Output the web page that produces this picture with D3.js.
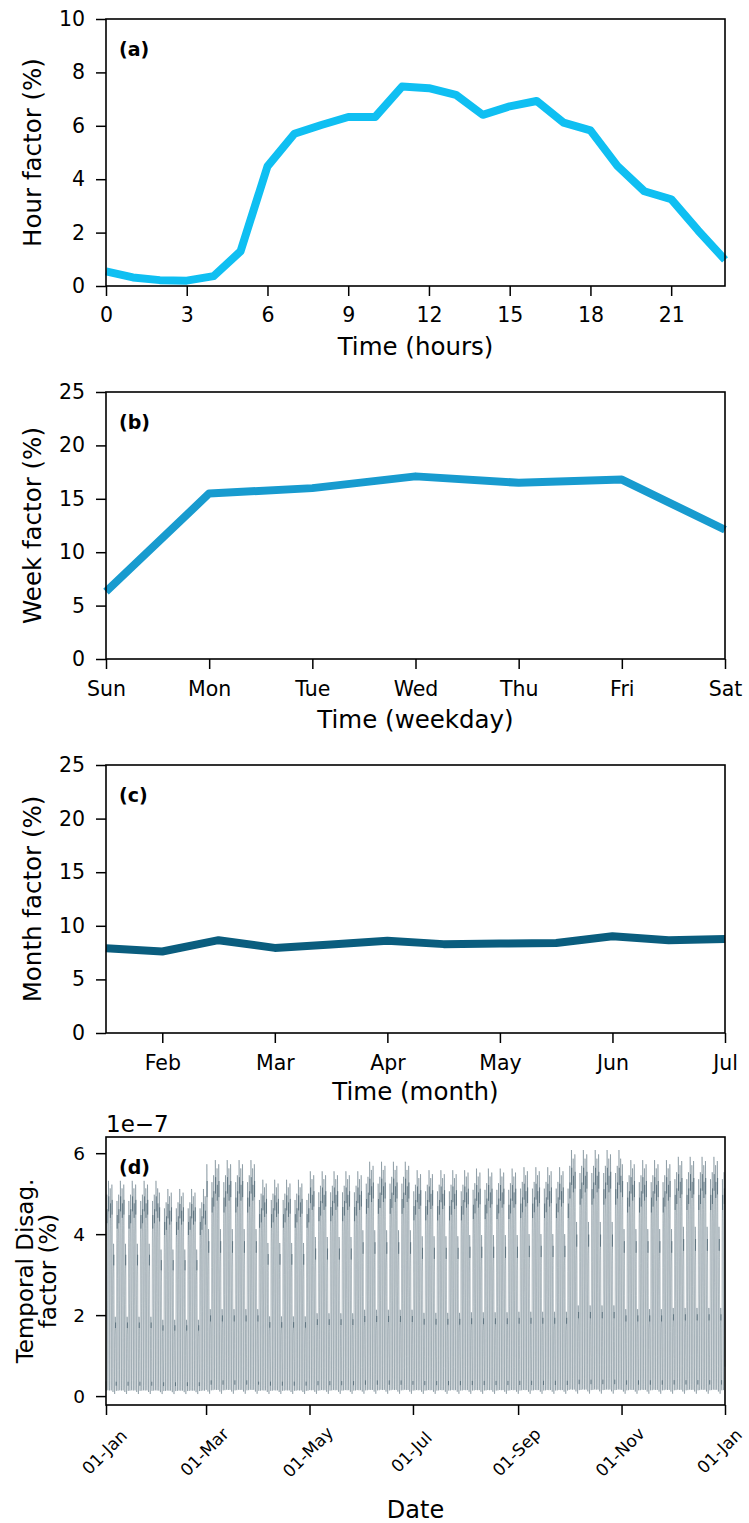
<!DOCTYPE html>
<html><head><meta charset="utf-8">
<script src="https://cdn.jsdelivr.net/npm/d3@7/dist/d3.min.js"></script>
<style>
body{margin:0;background:#fff}
text{font-family:"DejaVu Sans",sans-serif;fill:#000}
</style>
</head><body>
<svg id="chart" width="749" height="1523"></svg>
<script>
// ---------- data ----------
const hourIndex = [0,1,2,3,4,5,6,7,8,9,10,11,12,13,14,15,16,17,18,19,20,21,22,23];
const hourFactor = [0.55,0.32,0.22,0.20,0.37,1.30,4.48,5.70,6.03,6.33,6.33,7.47,7.41,7.16,6.41,6.73,6.93,6.12,5.83,4.50,3.55,3.25,2.08,0.98];
const hourTicks = [0,3,6,9,12,15,18,21];

const weekdays = ["Sun","Mon","Tue","Wed","Thu","Fri","Sat"];
const weekFactor = [6.3,15.5,16.0,17.1,16.5,16.8,12.1];

const monthIndex = [0,1,2,3,4,5,6,7,8,9,10,11];
const monthFactor = [7.9,7.6,8.66,7.94,8.25,8.6,8.29,8.35,8.4,9.03,8.66,8.78];
const monthTickPos = [1,3,5,7,9,11];
const monthTickLabels = ["Feb","Mar","Apr","May","Jun","Jul"];

const weekTicksY = [0,5,10,15,20,25];
const hourTicksY = [0,2,4,6,8,10];
const disagTicksY = [0,2,4,6];
const disagYear = 2019;
const disagScale = 0.00527;
const dateTicks = ["2019-01-01","2019-03-01","2019-05-01","2019-07-01","2019-09-01","2019-11-01","2020-01-01"];

// ---------- layout ----------
const svg = d3.select("#chart");
const L = 106, R = 725;
const tickFont = 20.5, labelFont = 24.5;

function frame(top, bottom){
  svg.append("rect").attr("x",L).attr("y",top).attr("width",R-L).attr("height",bottom-top)
    .attr("fill","none").attr("stroke","#000").attr("stroke-width",1.6);
}
function styleAxis(size){
  return g=>{
    g.select(".domain").remove();
    g.selectAll(".tick line").attr("stroke","#000").attr("stroke-width",1.5);
    g.selectAll(".tick text").attr("font-size",size).attr("font-family","DejaVu Sans");
  };
}
function yLabel(top,bottom,lines,x,size,dy0){
  const t = svg.append("text").attr("transform",`translate(${x},${(top+bottom)/2}) rotate(-90)`)
    .attr("text-anchor","middle").attr("font-size",size);
  lines.forEach((s,i)=>t.append("tspan").attr("x",0).attr("dy", i===0 ? dy0 : "1.0em").text(s));
}
function panelLabel(top,s){
  svg.append("text").attr("x",119).attr("y",top+37).attr("font-size",19).attr("font-weight","bold").text(s);
}
function xLabel(s,yy,size){
  svg.append("text").attr("x",(L+R)/2).attr("y",yy).attr("text-anchor","middle").attr("font-size",size).text(s);
}

// ---------- panel a ----------
{
  const top=19,bottom=286;
  const x=d3.scaleLinear().domain([0,23]).range([L,R]);
  const y=d3.scaleLinear().domain([0,10]).range([bottom,top]);
  const line=d3.line().x((d,i)=>x(hourIndex[i])).y(d=>y(d));
  svg.append("path").datum(hourFactor).attr("d",line).attr("fill","none")
    .attr("stroke","#0fbff2").attr("stroke-width",8).attr("stroke-linejoin","round");
  frame(top,bottom);
  svg.append("g").attr("transform",`translate(0,${bottom})`)
    .call(d3.axisBottom(x).tickValues(hourTicks).tickSize(10).tickPadding(11).tickSizeOuter(0)).call(styleAxis(tickFont));
  svg.append("g").attr("transform",`translate(${L},0)`)
    .call(d3.axisLeft(y).tickValues(hourTicksY).tickSize(10).tickPadding(11).tickSizeOuter(0)).call(styleAxis(tickFont));
  xLabel("Time (hours)",355,labelFont);
  yLabel(top,bottom,["Hour factor (%)"],32,labelFont,"0.35em");
  panelLabel(top,"(a)");
}
// ---------- panel b ----------
{
  const top=392,bottom=659;
  const x=d3.scaleLinear().domain([0,6]).range([L,R]);
  const y=d3.scaleLinear().domain([0,25]).range([bottom,top]);
  const line=d3.line().x((d,i)=>x(i)).y(d=>y(d));
  svg.append("path").datum(weekFactor).attr("d",line).attr("fill","none")
    .attr("stroke","#189bcf").attr("stroke-width",8).attr("stroke-linejoin","round");
  frame(top,bottom);
  svg.append("g").attr("transform",`translate(0,${bottom})`)
    .call(d3.axisBottom(x).tickValues(d3.range(weekdays.length)).tickFormat(i=>weekdays[i]).tickSize(10).tickPadding(12).tickSizeOuter(0)).call(styleAxis(tickFont));
  svg.append("g").attr("transform",`translate(${L},0)`)
    .call(d3.axisLeft(y).tickValues(weekTicksY).tickSize(10).tickPadding(11).tickSizeOuter(0)).call(styleAxis(tickFont));
  xLabel("Time (weekday)",728,labelFont);
  yLabel(top,bottom,["Week factor (%)"],32,labelFont,"0.35em");
  panelLabel(top,"(b)");
}
// ---------- panel c ----------
{
  const top=765,bottom=1033;
  const x=d3.scaleLinear().domain([0,11]).range([L,R]);
  const y=d3.scaleLinear().domain([0,25]).range([bottom,top]);
  const line=d3.line().x((d,i)=>x(monthIndex[i])).y(d=>y(d));
  svg.append("path").datum(monthFactor).attr("d",line).attr("fill","none")
    .attr("stroke","#0a5d7e").attr("stroke-width",8).attr("stroke-linejoin","round");
  frame(top,bottom);
  svg.append("g").attr("transform",`translate(0,${bottom})`)
    .call(d3.axisBottom(x).tickValues(monthTickPos).tickFormat((d,i)=>monthTickLabels[i]).tickSize(10).tickPadding(12).tickSizeOuter(0)).call(styleAxis(tickFont));
  svg.append("g").attr("transform",`translate(${L},0)`)
    .call(d3.axisLeft(y).tickValues(weekTicksY).tickSize(10).tickPadding(11).tickSizeOuter(0)).call(styleAxis(tickFont));
  xLabel("Time (month)",1100,labelFont);
  yLabel(top,bottom,["Month factor (%)"],32,labelFont,"0.35em");
  panelLabel(top,"(c)");
}
// ---------- panel d ----------
{
  const top=1137,bottom=1405;
  const start=new Date(disagYear,0,1), end=new Date(disagYear+1,0,1);
  const x=d3.scaleTime().domain([start,end]).range([L,R]);
  const y=d3.scaleLinear().domain([-0.22,6.4]).range([bottom,top]);
  const series=[];
  for(const day of d3.timeDay.range(start,end)){
    const w=weekFactor[day.getDay()], m=monthFactor[day.getMonth()];
    hourIndex.forEach(h=>{
      series.push({t:d3.timeHour.offset(day,h), v:hourFactor[h]*w*m*disagScale});
    });
  }
  svg.append("path").datum(series).attr("d",d3.line().x(d=>x(d.t)).y(d=>y(d.v)))
    .attr("fill","none").attr("stroke","#1d3d4e").attr("stroke-opacity",0.5).attr("stroke-width",0.6);
  frame(top,bottom);
  const fmt=d3.timeFormat("%d-%b");
  const gx=svg.append("g").attr("transform",`translate(0,${bottom})`)
    .call(d3.axisBottom(x).tickValues(dateTicks.map(s=>d3.timeParse("%Y-%m-%d")(s))).tickFormat(fmt).tickSize(10).tickSizeOuter(0)).call(styleAxis(17));
  gx.selectAll(".tick text").attr("y",0).attr("dy","0.35em").attr("text-anchor","middle")
    .attr("transform",(d,i,n)=> i===n.length-1 ? "translate(-6,46) rotate(-45)" : "translate(-2,47) rotate(-45)");
  svg.append("g").attr("transform",`translate(${L},0)`)
    .call(d3.axisLeft(y).tickValues(disagTicksY).tickFormat(d3.format("d")).tickSize(10).tickPadding(11).tickSizeOuter(0)).call(styleAxis(18.5));
  svg.append("text").attr("x",L).attr("y",1132).attr("font-size",23).text("1e\u22127");
  xLabel("Date",1518,24);
  yLabel(top,bottom,["Temporal Disag.","factor (%)"],36,23,"-0.12em");
  panelLabel(top,"(d)");
}
</script>
</body></html>
